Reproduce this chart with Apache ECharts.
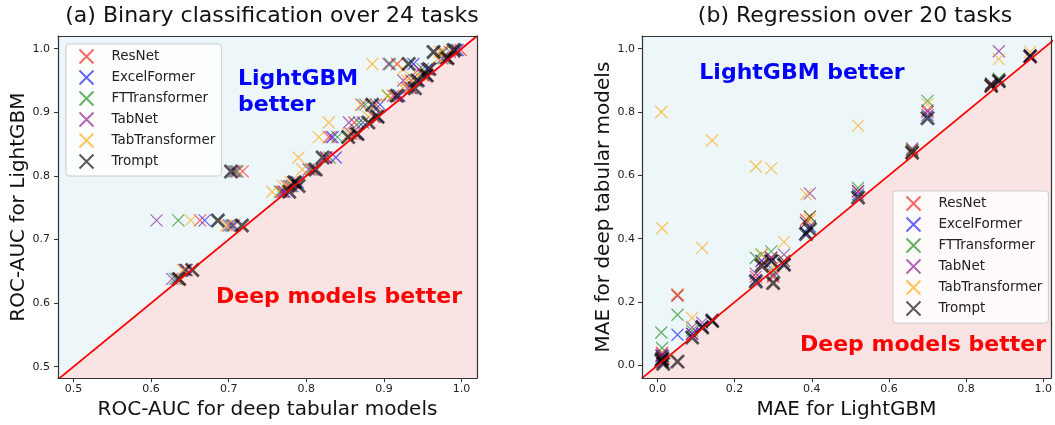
<!DOCTYPE html>
<html><head><meta charset="utf-8">
<script src="https://cdn.jsdelivr.net/npm/echarts@6/dist/echarts.min.js"></script>
<style>html,body{margin:0;padding:0;background:#fff}#c{width:1055px;height:425px}</style>
</head><body><div id="c"></div>
<script>
// ---------- names ----------
const modelNames = ['ResNet', 'ExcelFormer', 'FTTransformer', 'TabNet', 'TabTransformer', 'Trompt'];
const titleA = '(a) Binary classification over 24 tasks';
const titleB = '(b) Regression over 20 tasks';

// ---------- (a) Binary classification: ROC-AUC, 24 tasks ----------
const aucLightGBM   = [0.638,0.652,0.730,0.722,0.807,0.775,0.784,0.810,0.829,0.861,0.884,0.912,0.926,0.950,0.976,0.968,0.995,0.998,0.866,0.893,0.938,0.958,0.985,0.790];
const aucResNet     = [0.637,0.646,0.663,0.707,0.718,0.770,0.775,0.808,0.826,0.829,0.862,0.890,0.912,0.935,0.917,0.945,0.975,0.999,0.862,0.888,0.933,0.952,0.980,0.786];
const aucExcel      = [0.634,0.645,0.669,0.705,0.711,0.772,0.782,0.810,0.838,0.834,0.873,0.895,0.920,0.945,0.938,0.955,0.990,0.995,0.866,0.892,0.936,0.956,0.982,0.789];
const aucFTT        = [0.631,0.644,0.635,0.703,0.709,0.766,0.780,0.806,0.830,0.840,0.868,0.876,0.905,0.940,0.908,0.950,0.977,0.993,0.864,0.890,0.935,0.955,0.978,0.787];
const aucTabNet     = [0.627,0.643,0.607,0.700,0.707,0.768,0.778,0.803,0.825,0.832,0.855,0.872,0.915,0.925,0.906,0.960,0.985,0.992,0.858,0.887,0.930,0.950,0.975,0.783];
const aucTabTrans   = [0.635,0.641,0.651,0.697,0.712,0.756,0.770,0.795,0.790,0.816,0.829,0.870,0.905,0.930,0.885,0.925,0.972,0.988,0.855,0.880,0.925,0.945,0.970,0.780];
const aucTrompt     = [0.636,0.653,0.686,0.717,0.703,0.778,0.790,0.812,0.821,0.854,0.880,0.885,0.917,0.943,0.932,0.958,0.964,0.990,0.866,0.892,0.940,0.955,0.982,0.785];
const aucTicks = [0.5,0.6,0.7,0.8,0.9,1.0];

// ---------- (b) Regression: MAE, 20 tasks ----------
const maeLightGBM   = [0.010,0.012,0.015,0.052,0.090,0.116,0.142,0.255,0.270,0.300,0.295,0.328,0.385,0.395,0.520,0.660,0.700,0.865,0.885,0.966];
const maeResNet     = [0.030,0.040,0.020,0.220,0.100,0.120,0.140,0.280,0.320,0.280,0.340,0.330,0.460,0.470,0.550,0.680,0.800,0.885,0.900,0.975];
const maeExcel      = [0.020,0.030,0.010,0.097,0.100,0.125,0.140,0.270,0.330,0.300,0.330,0.320,0.420,0.440,0.540,0.670,0.790,0.880,0.895,0.975];
const maeFTT        = [0.104,0.055,0.030,0.160,0.110,0.120,0.140,0.340,0.350,0.290,0.360,0.330,0.450,0.470,0.560,0.680,0.835,0.890,0.905,0.978];
const maeTabNet     = [0.030,0.035,0.025,0.223,0.120,0.135,0.145,0.290,0.330,0.285,0.340,0.350,0.450,0.543,0.550,0.685,0.805,0.890,0.992,0.980];
const maeTabTrans   = [0.800,0.433,0.020,0.225,0.150,0.371,0.710,0.628,0.350,0.310,0.622,0.390,0.540,0.460,0.757,0.670,0.825,0.880,0.967,0.990];
const maeTrompt     = [0.015,0.020,0.005,0.012,0.088,0.120,0.140,0.265,0.315,0.260,0.330,0.318,0.415,0.430,0.530,0.672,0.780,0.883,0.898,0.975];
const maeTicks = [0.0,0.2,0.4,0.6,0.8,1.0];

const aucModels = [aucResNet, aucExcel, aucFTT, aucTabNet, aucTabTrans, aucTrompt];
const maeModels = [maeResNet, maeExcel, maeFTT, maeTabNet, maeTabTrans, maeTrompt];

// ---------- styles ----------
const colors = ['rgba(255,0,0,0.75)','rgba(0,0,255,0.75)','rgba(0,128,0,0.75)','rgba(128,0,128,0.75)','rgba(255,165,0,0.8)','rgba(0,0,0,0.82)'];
const widths = [1.2,1.2,1.2,1.2,1.2,2.8];
const sizes  = [12,12,12,12,12,13];
const FONT = 'DejaVu Sans';
const xPath = 'path://M0,0L10,10M10,0L0,10';

const chart = echarts.init(document.getElementById('c'), null, {renderer:'canvas'});

function axis(kind, gi, min, max, ticks, name, gap, labelMargin) {
  const isX = kind === 'x';
  return {
    type:'value', gridIndex:gi, min, max, position: isX ? 'bottom' : 'left',
    name, nameLocation:'middle', nameGap:gap,
    nameTextStyle:{fontFamily:FONT, fontSize:20, color:'#111'},
    axisLine:{show:true, onZero:false, lineStyle:{color:'#333', width:1.2}},
    axisTick:{show:true, length:4, customValues:ticks, lineStyle:{color:'#333', width:1}},
    axisLabel:{customValues:ticks, formatter:v => v.toFixed(1), fontFamily:FONT, fontSize:11, color:'#222', margin:labelMargin},
    splitLine:{show:false}, z:10
  };
}
function spine(kind, gi, min, max) {
  return {type:'value', gridIndex:gi, min, max, position: kind === 'x' ? 'top' : 'right',
    axisLine:{show:true, onZero:false, lineStyle:{color:'#333', width:1.2}},
    axisTick:{show:false}, axisLabel:{show:false}, splitLine:{show:false}, z:10};
}
function legend(left, top) {
  return {left, top, orient:'vertical', data:modelNames, itemWidth:40, itemHeight:14, itemGap:2,
    padding:[3,6,5,11], backgroundColor:'rgba(255,255,255,0.85)', borderColor:'#cccccc', borderWidth:1, borderRadius:3,
    textStyle:{fontFamily:FONT, fontSize:13.5, color:'#222', lineHeight:16}, selectedMode:false, z:20};
}

const series = [];
function addPanel(gi, lo, hi, pairs) {
  series.push({type:'line', xAxisIndex:gi*2, yAxisIndex:gi*2, data:[[lo,lo],[hi,hi]], symbol:'none', silent:true,
    lineStyle:{width:0}, areaStyle:{color:'#fae3e3', opacity:1, origin:'start'}, z:0, clip:true});
  modelNames.forEach((nm, k) => {
    series.push({type:'scatter', name:nm, xAxisIndex:gi*2, yAxisIndex:gi*2, data:pairs(k),
      symbol:xPath, symbolSize:sizes[k],
      itemStyle:{color:'none', borderColor:colors[k], borderWidth:widths[k]},
      emphasis:{disabled:true}, z:3+k});
  });
  series.push({type:'line', xAxisIndex:gi*2, yAxisIndex:gi*2, data:[[lo,lo],[hi,hi]], symbol:'none', silent:true,
    lineStyle:{color:'#ff0000', width:1.8}, z:9, clip:true});
}
addPanel(0, 0.48, 1.02, k => aucLightGBM.map((y,i) => [aucModels[k][i], y]));
addPanel(1, -0.04, 1.04, k => maeLightGBM.map((x,i) => [x, maeModels[k][i]]));

chart.setOption({
  animation:false,
  title:[
    {text:titleA, left:267, top:0, textAlign:'center', textStyle:{fontFamily:FONT, fontSize:22, fontWeight:'normal', color:'#111'}},
    {text:titleB, left:850, top:0, textAlign:'center', textStyle:{fontFamily:FONT, fontSize:22, fontWeight:'normal', color:'#111'}}
  ],
  grid:[
    {left:58, top:36, width:419, height:344, show:true, backgroundColor:'#edf6f9', borderWidth:0},
    {left:642, top:36, width:411, height:344, show:true, backgroundColor:'#edf6f9', borderWidth:0}
  ],
  xAxis:[
    axis('x', 0, 0.48, 1.02, aucTicks, 'ROC-AUC for deep tabular models', 20, 6),
    spine('x', 0, 0.48, 1.02),
    axis('x', 1, -0.04, 1.02, maeTicks, 'MAE for LightGBM', 20, 6),
    spine('x', 1, -0.04, 1.02)
  ],
  yAxis:[
    axis('y', 0, 0.482, 1.02, aucTicks, 'ROC-AUC for LightGBM', 27, 8),
    spine('y', 0, 0.482, 1.02),
    axis('y', 1, -0.04, 1.04, maeTicks, 'MAE for deep tabular models', 26, 7),
    spine('y', 1, -0.04, 1.04)
  ],
  legend:[legend(66, 44), legend(893, 191)],
  graphic:[
    {type:'text', x:238, y:66, z:15, style:{text:'LightGBM\nbetter', font:'bold 22px "DejaVu Sans"', fill:'#0000ff', lineHeight:26, textVerticalAlign:'top'}},
    {type:'text', x:339, y:297, z:15, style:{text:'Deep models better', font:'bold 22px "DejaVu Sans"', fill:'#ff0000', textAlign:'center', textVerticalAlign:'middle'}},
    {type:'text', x:802, y:73, z:15, style:{text:'LightGBM better', font:'bold 22px "DejaVu Sans"', fill:'#0000ff', textAlign:'center', textVerticalAlign:'middle'}},
    {type:'text', x:923, y:345, z:15, style:{text:'Deep models better', font:'bold 22px "DejaVu Sans"', fill:'#ff0000', textAlign:'center', textVerticalAlign:'middle'}}
  ],
  series
});
</script>
</body></html>
